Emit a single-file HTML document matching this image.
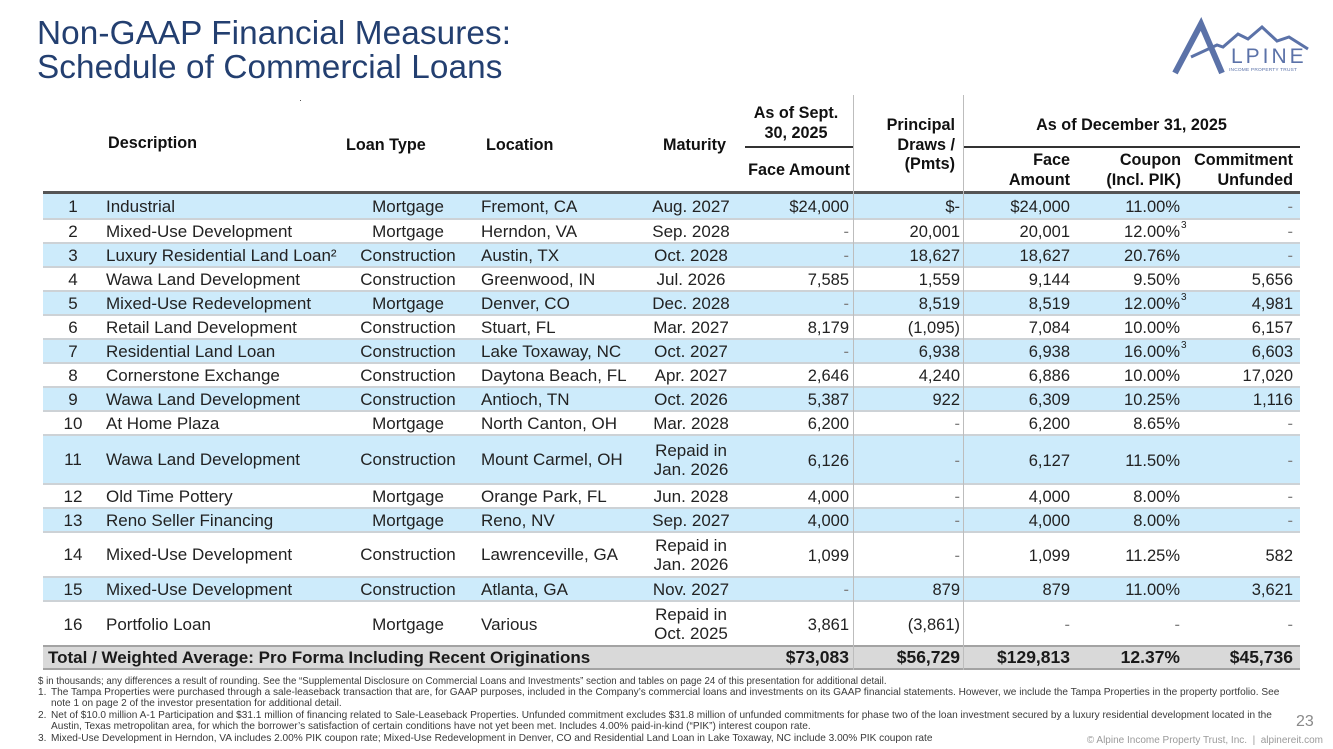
<!DOCTYPE html>
<html><head><meta charset="utf-8">
<style>
*{margin:0;padding:0;box-sizing:border-box;}
html,body{width:1333px;height:749px;overflow:hidden;background:#fff;font-family:"Liberation Sans",sans-serif;color:#1a1a1a;}
.abs{position:absolute;}
.title{position:absolute;left:37px;font-size:33.3px;color:#233f70;line-height:34px;white-space:nowrap;letter-spacing:0.1px;}
.h{position:absolute;font-weight:bold;font-size:16.2px;color:#111;line-height:19.5px;white-space:nowrap;}
.r{position:absolute;left:43px;width:1257px;font-size:17px;color:#222;}
.r.b{background:#cdebfb;}
.r.sep{border-top:2px solid #cdd2d6;}
.c{position:absolute;top:0;height:100%;display:flex;align-items:center;white-space:nowrap;line-height:19px;}
.num{left:5px;width:50px;justify-content:center;}
.desc{left:63px;}
.type{left:300px;width:130px;justify-content:center;}
.loc{left:438px;}
.mat{left:598px;width:100px;justify-content:center;text-align:center;}
.f1,.dr,.f2,.cp,.un{font-size:16.5px;padding-top:1px;top:1px;}
.f1{left:646px;width:160px;justify-content:flex-end;}
.dr{left:757px;width:160px;justify-content:flex-end;}
.f2{left:867px;width:160px;justify-content:flex-end;}
.cp{left:977px;width:160px;justify-content:flex-end;}
.un{left:1090px;width:160px;justify-content:flex-end;}
.d{color:#808080;}
.sup{position:relative;}
.sup i{position:absolute;left:100%;top:-7px;font-style:normal;font-size:10px;margin-left:1px;}
.vl{position:absolute;width:1px;background:#bdbdbd;top:95px;height:575px;z-index:5;}
.tot{font-weight:bold;background:#d9d9d9;border-top:2px solid #a3a3a3;border-bottom:2px solid #a3a3a3;color:#1a1a1a;font-size:17px;}
.tot .f1,.tot .dr,.tot .f2,.tot .cp,.tot .un{font-size:17.5px;padding-top:0;top:0;}
.fn{position:absolute;left:38px;font-size:10.1px;color:#3a3a3a;line-height:11.5px;white-space:nowrap;}
.fn .n{position:absolute;left:0;}
.fn .t{position:absolute;left:13px;}
</style></head><body>

<div class="title" style="top:17px;">Non-GAAP Financial Measures:</div>
<div class="title" style="top:51px;">Schedule of Commercial Loans</div>
<div class="abs" style="left:300px;top:100px;width:1px;height:1px;background:#555;"></div>

<!-- Logo -->
<svg class="abs" style="left:1160px;top:15px;" width="160" height="70" viewBox="0 0 160 70">
  <g fill="none" stroke="#5b72a8" stroke-linejoin="miter">
    <path d="M15 58 L41 9 L62 58" stroke-width="6"/>
    <path d="M31 42 L57 30 L63 32 L78 19 L88 24 L102 12 L117 26 L129 22 L148 34" stroke-width="3"/>
  </g>
  <text x="71" y="48" font-family="Liberation Sans, sans-serif" font-size="21" fill="#5b72a8" letter-spacing="3">LPINE</text>
  <text x="69" y="56" font-family="Liberation Sans, sans-serif" font-size="4.8" fill="#5b72a8" letter-spacing="0.2">INCOME PROPERTY TRUST</text>
</svg>

<!-- Header -->
<div class="h" style="left:108px;top:134px;">Description</div>
<div class="h" style="left:346px;top:136px;">Loan Type</div>
<div class="h" style="left:486px;top:136px;">Location</div>
<div class="h" style="left:630px;width:96px;text-align:right;top:136px;">Maturity</div>
<div class="h" style="left:738px;width:116px;text-align:center;top:104px;">As of Sept.<br>30, 2025</div>
<div class="h" style="left:735px;width:115px;text-align:right;top:161px;">Face Amount</div>
<div class="h" style="left:855px;width:100px;text-align:right;top:116px;">Principal<br>Draws /<br>(Pmts)</div>
<div class="h" style="left:963px;width:337px;text-align:center;top:116px;">As of December 31, 2025</div>
<div class="h" style="left:960px;width:110px;text-align:right;top:151px;">Face<br>Amount</div>
<div class="h" style="left:1065px;width:116px;text-align:right;top:151px;">Coupon<br>(Incl. PIK)</div>
<div class="h" style="left:1173px;width:120px;text-align:right;top:151px;">Commitment<br>Unfunded</div>
<div class="abs" style="left:745px;top:146px;width:108px;height:2px;background:#333;"></div>
<div class="abs" style="left:963px;top:146px;width:337px;height:2px;background:#333;"></div>

<div class="vl" style="left:853px;"></div>
<div class="vl" style="left:963px;"></div>

<div class="abs" style="left:43px;top:191px;width:1257px;height:3px;background:#555;"></div>

<!-- Rows -->
<div class="r b" style="top:194px;height:24px;">
 <div class="c num">1</div><div class="c desc">Industrial</div><div class="c type">Mortgage</div><div class="c loc">Fremont, CA</div><div class="c mat">Aug. 2027</div>
 <div class="c f1">$24,000</div><div class="c dr">$-</div><div class="c f2">$24,000</div><div class="c cp">11.00%</div><div class="c un d">-</div></div>
<div class="r sep" style="top:218px;height:24px;">
 <div class="c num">2</div><div class="c desc">Mixed-Use Development</div><div class="c type">Mortgage</div><div class="c loc">Herndon, VA</div><div class="c mat">Sep. 2028</div>
 <div class="c f1 d">-</div><div class="c dr">20,001</div><div class="c f2">20,001</div><div class="c cp"><span class="sup">12.00%<i>3</i></span></div><div class="c un d">-</div></div>
<div class="r b sep" style="top:242px;height:24px;">
 <div class="c num">3</div><div class="c desc">Luxury Residential Land Loan²</div><div class="c type">Construction</div><div class="c loc">Austin, TX</div><div class="c mat">Oct. 2028</div>
 <div class="c f1 d">-</div><div class="c dr">18,627</div><div class="c f2">18,627</div><div class="c cp">20.76%</div><div class="c un d">-</div></div>
<div class="r sep" style="top:266px;height:24px;">
 <div class="c num">4</div><div class="c desc">Wawa Land Development</div><div class="c type">Construction</div><div class="c loc">Greenwood, IN</div><div class="c mat">Jul. 2026</div>
 <div class="c f1">7,585</div><div class="c dr">1,559</div><div class="c f2">9,144</div><div class="c cp">9.50%</div><div class="c un">5,656</div></div>
<div class="r b sep" style="top:290px;height:24px;">
 <div class="c num">5</div><div class="c desc">Mixed-Use Redevelopment</div><div class="c type">Mortgage</div><div class="c loc">Denver, CO</div><div class="c mat">Dec. 2028</div>
 <div class="c f1 d">-</div><div class="c dr">8,519</div><div class="c f2">8,519</div><div class="c cp"><span class="sup">12.00%<i>3</i></span></div><div class="c un">4,981</div></div>
<div class="r sep" style="top:314px;height:24px;">
 <div class="c num">6</div><div class="c desc">Retail Land Development</div><div class="c type">Construction</div><div class="c loc">Stuart, FL</div><div class="c mat">Mar. 2027</div>
 <div class="c f1">8,179</div><div class="c dr">(1,095)</div><div class="c f2">7,084</div><div class="c cp">10.00%</div><div class="c un">6,157</div></div>
<div class="r b sep" style="top:338px;height:24px;">
 <div class="c num">7</div><div class="c desc">Residential Land Loan</div><div class="c type">Construction</div><div class="c loc">Lake Toxaway, NC</div><div class="c mat">Oct. 2027</div>
 <div class="c f1 d">-</div><div class="c dr">6,938</div><div class="c f2">6,938</div><div class="c cp"><span class="sup">16.00%<i>3</i></span></div><div class="c un">6,603</div></div>
<div class="r sep" style="top:362px;height:24px;">
 <div class="c num">8</div><div class="c desc">Cornerstone Exchange</div><div class="c type">Construction</div><div class="c loc">Daytona Beach, FL</div><div class="c mat">Apr. 2027</div>
 <div class="c f1">2,646</div><div class="c dr">4,240</div><div class="c f2">6,886</div><div class="c cp">10.00%</div><div class="c un">17,020</div></div>
<div class="r b sep" style="top:386px;height:24px;">
 <div class="c num">9</div><div class="c desc">Wawa Land Development</div><div class="c type">Construction</div><div class="c loc">Antioch, TN</div><div class="c mat">Oct. 2026</div>
 <div class="c f1">5,387</div><div class="c dr">922</div><div class="c f2">6,309</div><div class="c cp">10.25%</div><div class="c un">1,116</div></div>
<div class="r sep" style="top:410px;height:24px;">
 <div class="c num">10</div><div class="c desc">At Home Plaza</div><div class="c type">Mortgage</div><div class="c loc">North Canton, OH</div><div class="c mat">Mar. 2028</div>
 <div class="c f1">6,200</div><div class="c dr d">-</div><div class="c f2">6,200</div><div class="c cp">8.65%</div><div class="c un d">-</div></div>
<div class="r b sep" style="top:434px;height:49px;">
 <div class="c num">11</div><div class="c desc">Wawa Land Development</div><div class="c type">Construction</div><div class="c loc">Mount Carmel, OH</div><div class="c mat">Repaid in<br>Jan. 2026</div>
 <div class="c f1">6,126</div><div class="c dr d">-</div><div class="c f2">6,127</div><div class="c cp">11.50%</div><div class="c un d">-</div></div>
<div class="r sep" style="top:483px;height:24px;">
 <div class="c num">12</div><div class="c desc">Old Time Pottery</div><div class="c type">Mortgage</div><div class="c loc">Orange Park, FL</div><div class="c mat">Jun. 2028</div>
 <div class="c f1">4,000</div><div class="c dr d">-</div><div class="c f2">4,000</div><div class="c cp">8.00%</div><div class="c un d">-</div></div>
<div class="r b sep" style="top:507px;height:24px;">
 <div class="c num">13</div><div class="c desc">Reno Seller Financing</div><div class="c type">Mortgage</div><div class="c loc">Reno, NV</div><div class="c mat">Sep. 2027</div>
 <div class="c f1">4,000</div><div class="c dr d">-</div><div class="c f2">4,000</div><div class="c cp">8.00%</div><div class="c un d">-</div></div>
<div class="r sep" style="top:531px;height:45px;">
 <div class="c num">14</div><div class="c desc">Mixed-Use Development</div><div class="c type">Construction</div><div class="c loc">Lawrenceville, GA</div><div class="c mat">Repaid in<br>Jan. 2026</div>
 <div class="c f1">1,099</div><div class="c dr d">-</div><div class="c f2">1,099</div><div class="c cp">11.25%</div><div class="c un">582</div></div>
<div class="r b sep" style="top:576px;height:24px;">
 <div class="c num">15</div><div class="c desc">Mixed-Use Development</div><div class="c type">Construction</div><div class="c loc">Atlanta, GA</div><div class="c mat">Nov. 2027</div>
 <div class="c f1 d">-</div><div class="c dr">879</div><div class="c f2">879</div><div class="c cp">11.00%</div><div class="c un">3,621</div></div>
<div class="r sep" style="top:600px;height:46px;">
 <div class="c num">16</div><div class="c desc">Portfolio Loan</div><div class="c type">Mortgage</div><div class="c loc">Various</div><div class="c mat">Repaid in<br>Oct. 2025</div>
 <div class="c f1">3,861</div><div class="c dr">(3,861)</div><div class="c f2 d">-</div><div class="c cp d">-</div><div class="c un d">-</div></div>
<div class="r tot" style="top:645px;height:25px;">
 <div class="c" style="left:5px;">Total / Weighted Average: Pro Forma Including Recent Originations</div>
 <div class="c f1">$73,083</div><div class="c dr">$56,729</div><div class="c f2">$129,813</div><div class="c cp">12.37%</div><div class="c un">$45,736</div></div>

<!-- Footnotes -->
<div class="fn" style="top:676px;font-size:9.7px;">$ in thousands; any differences a result of rounding. See the “Supplemental Disclosure on Commercial Loans and Investments” section and tables on page 24 of this presentation for additional detail.</div>
<div class="fn" style="top:687px;"><span class="n">1.</span><span class="t">The Tampa Properties were purchased through a sale-leaseback transaction that are, for GAAP purposes, included in the Company’s commercial loans and investments on its GAAP financial statements. However, we include the Tampa Properties in the property portfolio. See</span></div>
<div class="fn" style="top:698px;"><span class="t">note 1 on page 2 of the investor presentation for additional detail.</span></div>
<div class="fn" style="top:710px;"><span class="n">2.</span><span class="t">Net of $10.0 million A-1 Participation and $31.1 million of financing related to Sale-Leaseback Properties. Unfunded commitment excludes $31.8 million of unfunded commitments for phase two of the loan investment secured by a luxury residential development located in the</span></div>
<div class="fn" style="top:721px;"><span class="t">Austin, Texas metropolitan area, for which the borrower’s satisfaction of certain conditions have not yet been met. Includes 4.00% paid-in-kind (“PIK”) interest coupon rate.</span></div>
<div class="fn" style="top:733px;"><span class="n">3.</span><span class="t">Mixed-Use Development in Herndon, VA includes 2.00% PIK coupon rate; Mixed-Use Redevelopment in Denver, CO and Residential Land Loan in Lake Toxaway, NC include 3.00% PIK coupon rate</span></div>

<div class="abs" style="left:1296px;top:713px;font-size:16px;color:#8a8a8a;">23</div>
<div class="abs" style="right:10px;top:735px;font-size:10px;color:#9a9a9a;white-space:nowrap;">© Alpine Income Property Trust, Inc. &nbsp;|&nbsp; alpinereit.com</div>

</body></html>
